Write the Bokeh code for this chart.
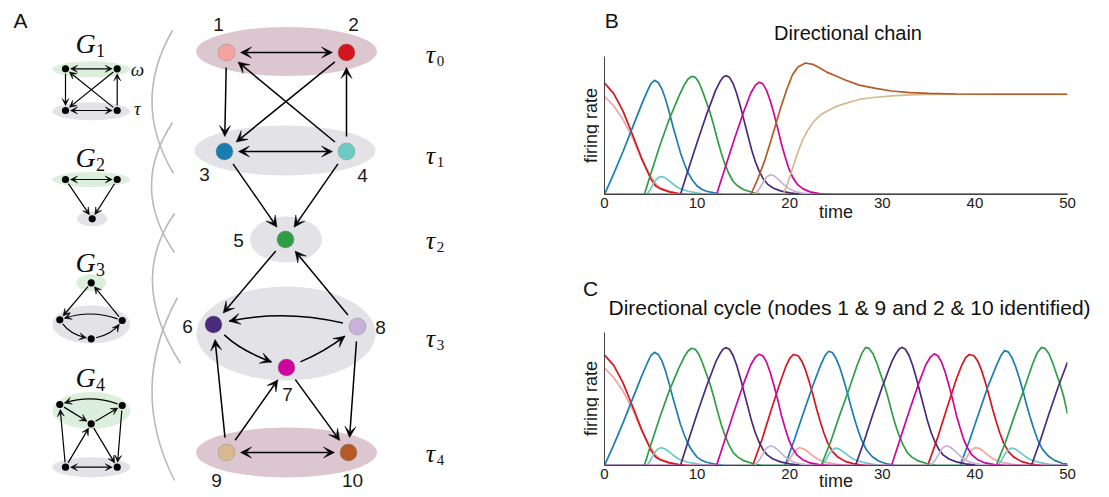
import math
from bokeh.plotting import figure
from bokeh.models import Range1d, Arrow, VeeHead, FixedTicker, Title
from bokeh.layouts import row, column
from bokeh.embed import file_html
from bokeh.resources import INLINE
from bokeh.core.properties import value

# ---------------- data: panel B (directional chain) ----------------
time_ticks = [0, 10, 20, 30, 40, 50]
node_colors = ["#f4a3a0", "#d7141e", "#1a7db0", "#6cc9c4", "#2e9e45",
               "#4a2a7a", "#d0049c", "#c8b2d9", "#d8b98f", "#b35a25"]

b_t1 = [0, 1, 2, 3, 4, 4.5, 5, 5.5, 6, 7, 8, 9, 50]
b_y1 = [0.754, 0.68, 0.575, 0.44, 0.27, 0.20, 0.14, 0.085, 0.05, 0.025, 0.008, 0, 0]
b_t2 = [0, 1, 2, 3, 4, 4.5, 5, 5.5, 6, 7, 8, 9, 50]
b_y2 = [0.856, 0.775, 0.64, 0.465, 0.28, 0.20, 0.12, 0.067, 0.045, 0.02, 0.007, 0, 0]
b_t3 = [0, 1, 2, 3, 4, 4.6, 5.0, 5.4, 5.8, 6.2, 6.6, 7.0, 7.4, 7.8, 8.2, 8.6, 9.0, 9.5, 10.0, 10.5, 11, 12, 13, 50]
b_y3 = [0, 0.16, 0.33, 0.51, 0.69, 0.79, 0.85, 0.877, 0.86, 0.81, 0.73, 0.63, 0.52, 0.42, 0.32, 0.24, 0.17, 0.11, 0.065, 0.04, 0.025, 0.01, 0, 0]
b_t4 = [0, 4.6, 5.0, 5.4, 5.8, 6.1, 6.5, 7.0, 7.5, 8.0, 9.0, 10.0, 11.0, 50]
b_y4 = [0, 0, 0.045, 0.10, 0.13, 0.138, 0.13, 0.105, 0.075, 0.05, 0.025, 0.012, 0, 0]
b_t5 = [0, 4.3, 5, 6, 7, 8, 8.6, 9.0, 9.4, 9.8, 10.2, 10.6, 11.0, 11.4, 11.8, 12.2, 12.6, 13.0, 13.4, 13.9, 14.4, 15, 16, 17, 50]
b_y5 = [0, 0, 0.16, 0.38, 0.58, 0.75, 0.84, 0.885, 0.908, 0.90, 0.86, 0.79, 0.71, 0.63, 0.53, 0.42, 0.32, 0.235, 0.165, 0.10, 0.065, 0.038, 0.015, 0, 0]
b_t6 = [0, 8.2, 9, 10, 11, 12, 12.5, 12.8, 13.1, 13.5, 13.9, 14.3, 14.7, 15.1, 15.5, 15.9, 16.3, 16.7, 17.1, 17.6, 18.2, 19, 20, 21.5, 50]
b_y6 = [0, 0, 0.18, 0.40, 0.61, 0.80, 0.87, 0.90, 0.913, 0.90, 0.85, 0.77, 0.67, 0.56, 0.45, 0.34, 0.25, 0.18, 0.125, 0.08, 0.05, 0.028, 0.013, 0, 0]
b_t7 = [0, 12.1, 13, 14, 15, 15.8, 16.3, 16.7, 17.1, 17.5, 17.9, 18.3, 18.7, 19.1, 19.5, 19.9, 20.3, 20.8, 21.4, 22.2, 23.2, 24.5, 50]
b_y7 = [0, 0, 0.20, 0.42, 0.63, 0.78, 0.84, 0.862, 0.85, 0.80, 0.72, 0.62, 0.51, 0.39, 0.29, 0.20, 0.135, 0.08, 0.045, 0.02, 0.007, 0, 0]
b_t8 = [0, 16.2, 16.7, 17.1, 17.5, 17.9, 18.3, 18.8, 19.3, 19.8, 20.4, 21.2, 22.5, 50]
b_y8 = [0, 0, 0.04, 0.09, 0.135, 0.152, 0.145, 0.115, 0.08, 0.05, 0.028, 0.012, 0, 0]
b_t9 = [0, 19.3, 19.8, 20.3, 20.8, 21.4, 22.0, 22.6, 23.3, 24.0, 25.0, 26.0, 27.5, 29.0, 31.0, 33.0, 35.0, 38.0, 42.0, 50]
b_y9 = [0, 0, 0.09, 0.20, 0.31, 0.42, 0.50, 0.56, 0.61, 0.64, 0.675, 0.70, 0.73, 0.745, 0.758, 0.765, 0.768, 0.77, 0.77, 0.77]
b_t10 = [0, 15.8, 16.5, 17.3, 18.0, 18.5, 19.0, 19.7, 20.3, 20.9, 21.7, 22.5, 23.3, 24.0, 25.0, 26.0, 27.5, 29.3, 31.0, 33.0, 35.0, 38.0, 42.0, 50]
b_y10 = [0, 0, 0.11, 0.26, 0.42, 0.54, 0.66, 0.81, 0.92, 0.98, 1.01, 1.0, 0.97, 0.94, 0.91, 0.88, 0.84, 0.815, 0.795, 0.782, 0.776, 0.772, 0.77, 0.77]

# ---------------- data: panel C (directional cycle) ----------------
c_t1 = [0, 1, 2, 3, 4, 4.5, 5, 5.5, 6, 7, 8, 9,
        19.5, 20.0, 20.5, 21.0, 21.5, 22.0, 22.5, 23.0, 24.0, 25.0, 26.0,
        38.5, 39.0, 39.5, 40.0, 40.5, 41.0, 41.5, 42.0, 43.0, 44.0, 45.0, 50]
c_y1 = [0.754, 0.68, 0.575, 0.44, 0.27, 0.20, 0.14, 0.085, 0.05, 0.025, 0.008, 0,
        0, 0.05, 0.11, 0.138, 0.13, 0.105, 0.075, 0.05, 0.022, 0.01, 0,
        0, 0.05, 0.11, 0.138, 0.132, 0.105, 0.075, 0.05, 0.022, 0.01, 0, 0]
c_t2 = [0, 1, 2, 3, 4, 4.5, 5, 5.5, 6, 7, 8, 9,
        16.0, 17, 18, 19, 19.6, 20.0, 20.4, 20.9, 21.3, 21.7, 22.1, 22.5, 22.9, 23.3, 23.7, 24.1, 24.6, 25.2, 26.0, 27.0, 28.2,
        34.9, 36, 37, 38, 38.6, 39.0, 39.4, 39.9, 40.3, 40.7, 41.1, 41.5, 41.9, 42.3, 42.7, 43.1, 43.6, 44.2, 45.0, 46.0, 47.2,
        50]
c_y2 = [0.856, 0.775, 0.64, 0.465, 0.28, 0.20, 0.12, 0.067, 0.045, 0.02, 0.007, 0,
        0, 0.20, 0.43, 0.65, 0.77, 0.83, 0.86, 0.85, 0.81, 0.74, 0.65, 0.55, 0.44, 0.34, 0.25, 0.175, 0.11, 0.065, 0.032, 0.012, 0,
        0, 0.22, 0.45, 0.67, 0.78, 0.835, 0.86, 0.85, 0.81, 0.74, 0.65, 0.55, 0.44, 0.34, 0.25, 0.175, 0.11, 0.065, 0.032, 0.012, 0,
        0]
c_t3 = [0, 1, 2, 3, 4, 4.6, 5.0, 5.4, 5.8, 6.2, 6.6, 7.0, 7.4, 7.8, 8.2, 8.6, 9.0, 9.5, 10.0, 10.5, 11, 12, 13,
        19.5, 20.5, 21.5, 22.5, 23.3, 23.8, 24.2, 24.6, 25.0, 25.4, 25.8, 26.2, 26.6, 27.0, 27.4, 27.8, 28.3, 28.9, 29.6, 30.5, 31.5,
        38.4, 39.4, 40.4, 41.4, 42.3, 42.8, 43.2, 43.6, 44.0, 44.4, 44.8, 45.2, 45.6, 46.0, 46.4, 46.8, 47.3, 47.9, 48.6, 49.5, 50]
c_y3 = [0, 0.16, 0.33, 0.51, 0.69, 0.79, 0.85, 0.877, 0.86, 0.81, 0.73, 0.63, 0.52, 0.42, 0.32, 0.24, 0.17, 0.11, 0.065, 0.04, 0.025, 0.01, 0,
        0, 0.20, 0.41, 0.62, 0.77, 0.85, 0.885, 0.875, 0.83, 0.76, 0.67, 0.57, 0.46, 0.36, 0.27, 0.19, 0.12, 0.07, 0.035, 0.012, 0,
        0, 0.19, 0.40, 0.61, 0.77, 0.85, 0.89, 0.88, 0.835, 0.765, 0.675, 0.575, 0.465, 0.365, 0.275, 0.195, 0.125, 0.075, 0.04, 0.015, 0.01]
c_t4 = [0, 4.6, 5.0, 5.4, 5.8, 6.1, 6.5, 7.0, 7.5, 8.0, 9.0, 10.0, 11.0,
        23.5, 23.9, 24.3, 24.7, 25.0, 25.4, 25.9, 26.4, 26.9, 27.9, 28.9, 29.9,
        42.5, 42.9, 43.3, 43.7, 44.0, 44.4, 44.9, 45.4, 45.9, 46.9, 47.9, 48.9, 50]
c_y4 = [0, 0, 0.045, 0.10, 0.13, 0.138, 0.13, 0.105, 0.075, 0.05, 0.025, 0.012, 0,
        0, 0.045, 0.095, 0.125, 0.135, 0.127, 0.10, 0.072, 0.048, 0.024, 0.011, 0,
        0, 0.045, 0.095, 0.125, 0.135, 0.127, 0.10, 0.072, 0.048, 0.024, 0.011, 0, 0]
c_t5 = [0, 4.3, 5, 6, 7, 8, 8.6, 9.0, 9.4, 9.8, 10.2, 10.6, 11.0, 11.4, 11.8, 12.2, 12.6, 13.0, 13.4, 13.9, 14.4, 15, 16, 17,
        23.4, 24.4, 25.4, 26.4, 27.3, 27.8, 28.2, 28.6, 29.0, 29.4, 29.8, 30.2, 30.6, 31.0, 31.4, 31.8, 32.2, 32.7, 33.2, 33.8, 34.8, 35.8,
        42.3, 43.3, 44.3, 45.3, 46.2, 46.7, 47.2, 47.6, 48.0, 48.4, 48.8, 49.2, 49.6, 50.0]
c_y5 = [0, 0, 0.16, 0.38, 0.58, 0.75, 0.84, 0.885, 0.908, 0.90, 0.86, 0.79, 0.71, 0.63, 0.53, 0.42, 0.32, 0.235, 0.165, 0.10, 0.065, 0.038, 0.015, 0,
        0, 0.18, 0.39, 0.59, 0.78, 0.87, 0.915, 0.905, 0.865, 0.795, 0.71, 0.63, 0.53, 0.42, 0.32, 0.235, 0.165, 0.10, 0.065, 0.038, 0.015, 0,
        0, 0.18, 0.39, 0.59, 0.78, 0.87, 0.915, 0.905, 0.865, 0.795, 0.71, 0.63, 0.53, 0.40]
c_t6 = [0, 8.2, 9, 10, 11, 12, 12.5, 12.8, 13.1, 13.5, 13.9, 14.3, 14.7, 15.1, 15.5, 15.9, 16.3, 16.7, 17.1, 17.6, 18.2, 19, 20, 21.5,
        27.1, 28, 29, 30, 31, 31.5, 31.8, 32.1, 32.5, 32.9, 33.3, 33.7, 34.1, 34.5, 34.9, 35.3, 35.7, 36.1, 36.6, 37.2, 38.0, 39.0, 40.5,
        46.1, 47, 48, 49, 50]
c_y6 = [0, 0, 0.18, 0.40, 0.61, 0.80, 0.87, 0.90, 0.913, 0.90, 0.85, 0.77, 0.67, 0.56, 0.45, 0.34, 0.25, 0.18, 0.125, 0.08, 0.05, 0.028, 0.013, 0,
        0, 0.18, 0.40, 0.61, 0.80, 0.87, 0.90, 0.915, 0.90, 0.85, 0.77, 0.67, 0.56, 0.45, 0.34, 0.25, 0.18, 0.125, 0.08, 0.05, 0.028, 0.013, 0,
        0, 0.18, 0.40, 0.61, 0.80]
c_t7 = [0, 12.1, 13, 14, 15, 15.8, 16.3, 16.7, 17.1, 17.5, 17.9, 18.3, 18.7, 19.1, 19.5, 19.9, 20.3, 20.8, 21.4, 22.2, 23.2, 24.5,
        31.0, 31.9, 32.9, 33.9, 34.7, 35.2, 35.6, 36.0, 36.4, 36.8, 37.2, 37.6, 38.0, 38.4, 38.8, 39.2, 39.7, 40.3, 41.1, 42.1, 43.4,
        50]
c_y7 = [0, 0, 0.20, 0.42, 0.63, 0.78, 0.84, 0.862, 0.85, 0.80, 0.72, 0.62, 0.51, 0.39, 0.29, 0.20, 0.135, 0.08, 0.045, 0.02, 0.007, 0,
        0, 0.20, 0.42, 0.63, 0.78, 0.84, 0.865, 0.85, 0.80, 0.72, 0.62, 0.51, 0.39, 0.29, 0.20, 0.135, 0.08, 0.045, 0.02, 0.007, 0,
        0]
c_t8 = [0, 16.2, 16.7, 17.1, 17.5, 17.9, 18.3, 18.8, 19.3, 19.8, 20.4, 21.2, 22.5,
        35.2, 35.7, 36.1, 36.5, 36.9, 37.3, 37.8, 38.3, 38.8, 39.4, 40.2, 41.5, 50]
c_y8 = [0, 0, 0.04, 0.09, 0.135, 0.152, 0.145, 0.115, 0.08, 0.05, 0.028, 0.012, 0,
        0, 0.04, 0.09, 0.135, 0.152, 0.145, 0.115, 0.08, 0.05, 0.028, 0.012, 0, 0]

# ---------------- panel A: diagram layout (page pixel coordinates) ----------------
node_x = [226, 346, 224, 346, 285, 213, 286, 357, 226, 348]
node_y = [52, 52, 151, 151, 239, 324, 367, 326, 452, 452]
node_labels = ["1", "2", "3", "4", "5", "6", "7", "8", "9", "10"]
label_x = [218, 353, 204, 362, 238, 187, 287, 380, 216, 352]
label_y = [24, 24, 174, 175, 240, 326, 394, 327, 480, 480]
single_edges = [(1, 3), (4, 2), (2, 3), (4, 1), (3, 5), (4, 5), (5, 6), (8, 5), (9, 6), (9, 7), (7, 10), (8, 10)]
double_edges = [(1, 2), (3, 4), (9, 10)]
curved_edges = [(8, 6, 284, 309), (6, 7, 240, 350), (7, 8, 323, 352)]

tau_rows = ["0", "1", "2", "3", "4"]
tau_y = [54, 155, 240, 338, 453]

ell_x = [286, 284.5, 285.5, 285.5, 286]
ell_y = [51, 150, 239, 333, 452]
ell_w = [181, 181, 72, 179, 181]
ell_h = [49, 50, 46, 94, 50]
MAUVE, GRAY, GREEN = "#dcc7d0", "#e2e2e7", "#dcefdc"
ell_c = [MAUVE, GRAY, GRAY, GRAY, MAUVE]

# small motif graphs G1..G4
g_names = ["1", "2", "3", "4"]
g_label_y = [43, 157, 262, 377]
sg_ell_x = [90.8, 90.8, 90.8, 91.7, 90.7, 90.8, 90.8, 90.8]
sg_ell_y = [68.8, 110.8, 179, 218.3, 282.3, 324, 410, 466.7]
sg_ell_w = [78, 78, 78, 30, 30, 78, 78, 78]
sg_ell_h = [16, 18, 15, 15, 17, 38, 37, 20]
sg_ell_c = [GREEN, GRAY, GREEN, GRAY, GREEN, GRAY, GREEN, GRAY]
sg_nodes = {
    "a1": (65, 68.3), "b1": (116.7, 68.3), "c1": (65, 110), "d1": (116.7, 110),
    "a2": (65, 179), "b2": (116.7, 179), "c2": (91.7, 218.3),
    "t3": (90.7, 282.3), "l3": (59.3, 319.3), "r3": (121.7, 320), "m3": (90.7, 338.3),
    "l4": (59.3, 404), "r4": (121.7, 405), "m4": (90.7, 423.3), "p4": (65, 466.7), "q4": (116.7, 466.7),
}
sg_single = [("a1", "c1"), ("d1", "b1"), ("b1", "c1"), ("d1", "a1"),
             ("a2", "c2"), ("b2", "c2"),
             ("t3", "l3"), ("r3", "t3"),
             ("l4", "m4"), ("m4", "r4"), ("p4", "l4"), ("p4", "m4"), ("m4", "q4"), ("r4", "q4")]
sg_double = [("a1", "b1"), ("c1", "d1"), ("a2", "b2"), ("p4", "q4")]
sg_curved = [("r3", "l3", 90.5, 309), ("l3", "m3", 70, 334), ("m3", "r3", 111, 334),
             ("r4", "l4", 90.5, 394)]

# gray brackets
br_x0 = [172, 172, 174, 177]
br_y0 = [30, 122, 213, 297]
br_x1 = [173, 174, 180, 174]
br_y1 = [173, 252, 363, 480]
br_cx = [130.5, 129, 127, 127.5]
br_cy = [101.5, 187, 280, 388]

SANS = "Liberation Sans"
SERIF = "Liberation Serif"


def shorten(x0, y0, x1, y1, g0, g1):
    dx, dy = x1 - x0, y1 - y0
    L = math.hypot(dx, dy)
    ux, uy = dx / L, dy / L
    return x0 + ux * g0, y0 + uy * g0, x1 - ux * g1, y1 - uy * g1


def head(size):
    return VeeHead(size=size, fill_color="black", line_color="black", line_width=0.5)


def add_arrow(p, x0, y0, x1, y1, both=False, size=11, lw=1.5):
    p.add_layout(Arrow(x_start=x0, y_start=y0, x_end=x1, y_end=y1,
                       end=head(size), start=head(size) if both else None,
                       line_color="black", line_width=lw))


def add_curve(p, x0, y0, x1, y1, cx, cy, g0, g1, size, lw):
    d0 = math.hypot(cx - x0, cy - y0)
    d1 = math.hypot(cx - x1, cy - y1)
    sx, sy = x0 + (cx - x0) / d0 * g0, y0 + (cy - y0) / d0 * g0
    ex, ey = x1 + (cx - x1) / d1 * g1, y1 + (cy - y1) / d1 * g1
    p.quadratic(x0=[sx], y0=[sy], x1=[ex], y1=[ey], cx=[cx], cy=[cy], line_color="black", line_width=lw)
    dx, dy = ex - cx, ey - cy
    L = math.hypot(dx, dy)
    p.add_layout(Arrow(x_start=ex - dx / L * 2, y_start=ey - dy / L * 2, x_end=ex, y_end=ey,
                       end=head(size), line_color="black", line_width=lw))


PAGE_W, PAGE_H = 1109, 497
W_A = 599
pa = figure(width=W_A, height=PAGE_H, x_range=Range1d(0, W_A), y_range=Range1d(PAGE_H, 0),
            output_backend="svg", toolbar_location=None, x_axis_location=None, y_axis_location=None,
            min_border=0, outline_line_color=None)
pa.grid.visible = False

pa.quadratic(x0=br_x0, y0=br_y0, x1=br_x1, y1=br_y1, cx=br_cx, cy=br_cy, line_color="#b9b9b9", line_width=1.6)
pa.ellipse(x=ell_x, y=ell_y, width=ell_w, height=ell_h, fill_color=ell_c, line_color=None)
pa.ellipse(x=sg_ell_x, y=sg_ell_y, width=sg_ell_w, height=sg_ell_h, fill_color=sg_ell_c, line_color=None)

for s, d in single_edges:
    x0, y0, x1, y1 = shorten(node_x[s - 1], node_y[s - 1], node_x[d - 1], node_y[d - 1], 15, 15)
    add_arrow(pa, x0, y0, x1, y1)
for s, d in double_edges:
    x0, y0, x1, y1 = shorten(node_x[s - 1], node_y[s - 1], node_x[d - 1], node_y[d - 1], 14, 14)
    add_arrow(pa, x0, y0, x1, y1, both=True)
for s, d, cx, cy in curved_edges:
    add_curve(pa, node_x[s - 1], node_y[s - 1], node_x[d - 1], node_y[d - 1], cx, cy, 15, 16, 11, 1.5)

pa.circle(x=node_x, y=node_y, radius=8.5, fill_color=node_colors, line_color="#777777",
          line_alpha=0.35, line_width=1)
pa.text(x=label_x, y=label_y, text=node_labels, text_align="center", text_baseline="middle",
        text_font=value(SANS), text_font_size=value("19px"), text_color="#1a1a1a")

pa.text(x=[430] * 5, y=tau_y, text=["τ"] * 5, text_align="center", text_baseline="middle",
        text_font=value(SERIF), text_font_style="italic", text_font_size=value("26px"), text_color="#111")
pa.text(x=[440] * 5, y=[t + 6 for t in tau_y], text=tau_rows, text_align="center", text_baseline="middle",
        text_font=value(SERIF), text_font_size=value("15px"), text_color="#111")

for s, d in sg_single:
    (xa, ya), (xb, yb) = sg_nodes[s], sg_nodes[d]
    x0, y0, x1, y1 = shorten(xa, ya, xb, yb, 5, 5)
    add_arrow(pa, x0, y0, x1, y1, size=7, lw=1.2)
for s, d in sg_double:
    (xa, ya), (xb, yb) = sg_nodes[s], sg_nodes[d]
    x0, y0, x1, y1 = shorten(xa, ya, xb, yb, 5, 5)
    add_arrow(pa, x0, y0, x1, y1, both=True, size=7, lw=1.2)
for s, d, cx, cy in sg_curved:
    (xa, ya), (xb, yb) = sg_nodes[s], sg_nodes[d]
    add_curve(pa, xa, ya, xb, yb, cx, cy, 5, 5, 7, 1.2)

pa.circle(x=[v[0] for v in sg_nodes.values()], y=[v[1] for v in sg_nodes.values()], radius=3.6,
          fill_color="black", line_color=None)
pa.text(x=[85] * 4, y=g_label_y, text=["G"] * 4, text_align="center", text_baseline="middle",
        text_font=value(SERIF), text_font_style="italic", text_font_size=value("28px"), text_color="#111")
pa.text(x=[100] * 4, y=[g + 7 for g in g_label_y], text=g_names, text_align="center", text_baseline="middle",
        text_font=value(SERIF), text_font_size=value("18px"), text_color="#111")
pa.text(x=[137, 137], y=[69, 108], text=["ω", "τ"], text_align="center", text_baseline="middle",
        text_font=value(SERIF), text_font_style="italic", text_font_size=value("19px"), text_color="#111")
pa.text(x=[20, 590], y=[20, 288], text=["A", "C"], text_align="center", text_baseline="middle",
        text_font=value(SANS), text_font_size=value("21px"), text_color="#111")
pa.text(x=[590, 590], y=[125, 398], text=["firing rate", "firing rate"], angle=math.pi / 2,
        text_align="center", text_baseline="middle",
        text_font=value(SANS), text_font_size=value("18px"), text_color="#1a1a1a")

# ---------------- panels B and C ----------------
W_B = PAGE_W - W_A
X0_PX, X50_PX = 604, 1067


def make_panel(height, fig_top, axis_top_px, axis_bot_px, ymax, label_standoff, extend_top):
    if extend_top:
        px_per_unit = (axis_bot_px - axis_top_px) / ymax
        y_top = (axis_bot_px - fig_top) / px_per_unit
        top_border = 0
    else:
        y_top = ymax
        top_border = axis_top_px - fig_top
    bottom_border = fig_top + height - axis_bot_px
    p = figure(width=W_B, height=height, x_range=Range1d(0, 50), y_range=Range1d(0, y_top),
               output_backend="svg", toolbar_location=None, min_border_left=X0_PX - W_A,
               min_border_right=W_A + W_B - X50_PX, min_border_top=top_border,
               min_border_bottom=bottom_border, outline_line_color=None)
    p.grid.visible = False
    p.xaxis.ticker = FixedTicker(ticks=time_ticks)
    p.yaxis.ticker = FixedTicker(ticks=[])
    p.yaxis.bounds = (0, ymax)
    for ax in (p.xaxis[0], p.yaxis[0]):
        ax.major_tick_in = 0
        ax.major_tick_out = 0
        ax.minor_tick_in = 0
        ax.minor_tick_out = 0
        ax.axis_line_color = "#444444"
        ax.axis_line_width = 1
    p.xaxis.major_label_text_font_size = "15px"
    p.xaxis.major_label_text_font = SANS
    p.xaxis.major_label_text_color = "#1a1a1a"
    p.xaxis.major_label_standoff = 3
    p.xaxis.axis_label = "time"
    p.xaxis.axis_label_text_font = SANS
    p.xaxis.axis_label_text_font_size = "18px"
    p.xaxis.axis_label_text_font_style = "normal"
    p.xaxis.axis_label_text_color = "#1a1a1a"
    p.xaxis.axis_label_standoff = label_standoff
    return p


pb = make_panel(245, 0, 56, 194, 1.06, -9, True)
b_series = [(b_t1, b_y1), (b_t2, b_y2), (b_t3, b_y3), (b_t4, b_y4), (b_t5, b_y5),
            (b_t6, b_y6), (b_t7, b_y7), (b_t8, b_y8), (b_t9, b_y9), (b_t10, b_y10)]
for (t, y), col in zip(b_series, node_colors):
    pb.line(t, y, line_color=col, line_width=1.7)
pb.text(x=[26.3], y=[1.244], text=["Directional chain"], text_align="center", text_baseline="middle",
        text_font=value(SANS), text_font_size=value("20px"), text_color="#111")
pb.text(x=[0.03], y=[1.3365], text=["B"], text_align="left", text_baseline="middle",
        text_font=value(SANS), text_font_size=value("21px"), text_color="#111")

pc = make_panel(252, 245, 332, 465, 1.03, -11, False)
pc.title = Title(text="Directional cycle (nodes 1 & 9 and 2 & 10 identified)", align="left",
                 text_font=SANS, text_font_size="21px", text_font_style="normal",
                 text_color="#111", standoff=28, offset=4)
c_series = [(c_t1, c_y1), (c_t2, c_y2), (c_t3, c_y3), (c_t4, c_y4), (c_t5, c_y5),
            (c_t6, c_y6), (c_t7, c_y7), (c_t8, c_y8)]
for (t, y), col in zip(c_series, node_colors[:8]):
    pc.line(t, y, line_color=col, line_width=1.7)

layout = row(pa, column(pb, pc))
open("out.html", "w").write(file_html(layout, INLINE))
